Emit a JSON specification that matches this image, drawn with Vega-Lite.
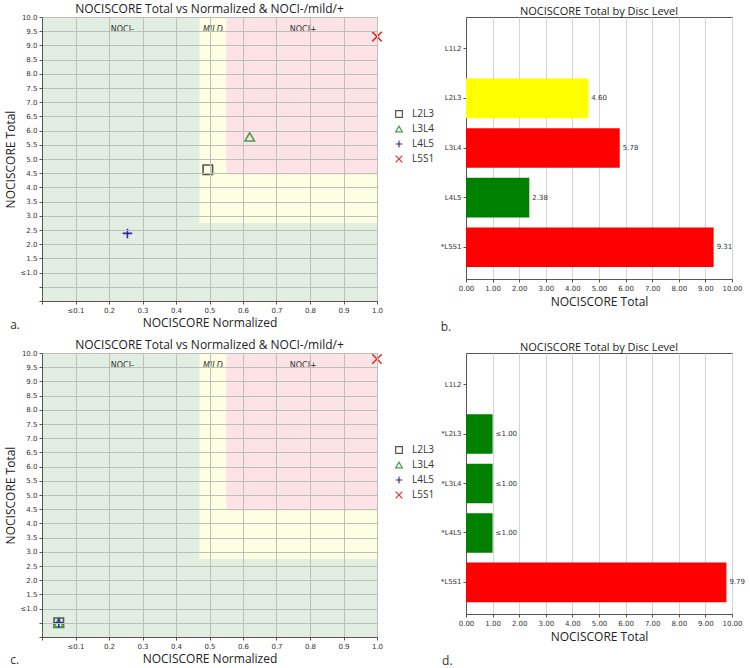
{
  "$schema": "https://vega.github.io/schema/vega-lite/v6.json",
  "padding": {"left": 3, "top": 2, "right": 0, "bottom": 0},
  "background": "white",
  "config": {
    "font": "Open Sans",
    "view": {"stroke": "#555", "strokeWidth": 1},
    "axis": {"labelFont": "DejaVu Sans", "labelFontSize": 7, "labelColor": "#333", "titleFont": "Open Sans", "titleFontSize": 12, "titleFontWeight": "normal", "titleColor": "#222", "domainColor": "#555", "tickColor": "#555", "tickSize": 3, "labelPadding": 2, "labelOverlap": false, "labelFlush": false},
    "title": {"font": "Open Sans", "fontSize": 12, "fontWeight": "normal", "color": "#222", "offset": -3, "frame": "group"},
    "legend": {"orient": "none", "legendX": 352, "legendY": 92, "padding": 0, "symbolSize": 45, "symbolStrokeWidth": 1.2, "labelFont": "Open Sans", "labelFontSize": 10, "labelColor": "#333", "rowPadding": 3, "labelOffset": 8, "title": null}
  },
  "datasets": {
    "zones": [
      {"zone": "NOCI-", "x0": 0, "x1": 1, "y0": 0, "y1": 10},
      {"zone": "MILD", "x0": 0.47, "x1": 1, "y0": 2.75, "y1": 10},
      {"zone": "NOCI+", "x0": 0.55, "x1": 1, "y0": 4.45, "y1": 10}
    ],
    "zoneLabels": [
      {"label": "NOCI-", "x": 0.24, "y": 9.55},
      {"label": "MILD", "x": 0.51, "y": 9.55},
      {"label": "NOCI+", "x": 0.78, "y": 9.55}
    ],
    "scatterA": [
      {"level": "L2L3", "norm": 0.495, "total": 4.62},
      {"level": "L3L4", "norm": 0.62, "total": 5.78},
      {"level": "L4L5", "norm": 0.255, "total": 2.38},
      {"level": "L5S1", "norm": 1.0, "total": 9.31}
    ],
    "scatterC": [
      {"level": "L2L3", "norm": 0.05, "total": 0.5},
      {"level": "L3L4", "norm": 0.05, "total": 0.5},
      {"level": "L4L5", "norm": 0.05, "total": 0.5},
      {"level": "L5S1", "norm": 1.0, "total": 9.79}
    ],
    "barsB": [
      {"disc": "L1L2", "total": null, "zone": null, "label": ""},
      {"disc": "L2L3", "total": 4.60, "zone": "MILD", "label": "4.60"},
      {"disc": "L3L4", "total": 5.78, "zone": "NOCI+", "label": "5.78"},
      {"disc": "L4L5", "total": 2.38, "zone": "NOCI-", "label": "2.38"},
      {"disc": "*L5S1", "total": 9.31, "zone": "NOCI+", "label": "9.31"}
    ],
    "barsD": [
      {"disc": "L1L2", "total": null, "zone": null, "label": ""},
      {"disc": "*L2L3", "total": 1.00, "zone": "NOCI-", "label": "≤1.00"},
      {"disc": "*L3L4", "total": 1.00, "zone": "NOCI-", "label": "≤1.00"},
      {"disc": "*L4L5", "total": 1.00, "zone": "NOCI-", "label": "≤1.00"},
      {"disc": "*L5S1", "total": 9.79, "zone": "NOCI+", "label": "9.79"}
    ]
  },
  "columns": 2,
  "spacing": {"row": 52, "column": 89},
  "bounds": "flush",
  "align": "each",
  "resolve": {
    "scale": {"shape": "independent", "stroke": "independent", "fill": "independent", "color": "independent", "x": "independent", "y": "independent"},
    "legend": {"shape": "independent", "stroke": "independent", "fill": "independent", "color": "independent"}
  },
  "concat": [
    {
      "width": 335, "height": 284,
      "title": {"text": "NOCISCORE Total vs Normalized & NOCI-/mild/+"},
      "layer": [
        {
          "data": {"name": "zones"},
          "mark": {"type": "rect"},
          "encoding": {
            "x": {"field": "x0", "type": "quantitative", "scale": {"domain": [0, 1], "nice": false, "zero": false},
              "axis": {"title": "NOCISCORE Normalized", "tickCount": 10, "labelExpr": "datum.value < 0.05 ? '' : (abs(datum.value - 0.1) < 0.001 ? '≤0.1' : format(datum.value, '.1f'))", "grid": true, "gridColor": "#b9c2b9", "gridWidth": 1, "zindex": 1, "titlePadding": 4}},
            "x2": {"field": "x1"},
            "y": {"field": "y0", "type": "quantitative", "scale": {"domain": [0, 10], "nice": false},
              "axis": {"title": "NOCISCORE Total", "tickCount": 20, "labelExpr": "datum.value < 0.9 ? '' : (abs(datum.value - 1) < 0.01 ? '≤1.0' : format(datum.value, '.1f'))", "grid": true, "gridColor": "#b9c2b9", "gridWidth": 1, "zindex": 1, "titlePadding": 3}},
            "y2": {"field": "y1"},
            "fill": {"field": "zone", "type": "nominal", "scale": {"domain": ["NOCI-", "MILD", "NOCI+"], "range": ["#e3eee2", "#fefee3", "#fde3e5"]}, "legend": null}
          }
        },
        {
          "data": {"name": "zoneLabels"},
          "transform": [{"filter": "datum.label != 'MILD'"}],
          "mark": {"type": "text", "font": "DejaVu Sans", "fontSize": 8, "color": "#333"},
          "encoding": {"x": {"field": "x", "type": "quantitative"}, "y": {"field": "y", "type": "quantitative"}, "text": {"field": "label"}}
        },
        {
          "data": {"name": "zoneLabels"},
          "transform": [{"filter": "datum.label == 'MILD'"}],
          "mark": {"type": "text", "font": "DejaVu Sans", "fontSize": 8, "fontStyle": "italic", "color": "#333"},
          "encoding": {"x": {"field": "x", "type": "quantitative"}, "y": {"field": "y", "type": "quantitative"}, "text": {"field": "label"}}
        },
        {
          "data": {"name": "scatterA"},
          "mark": {"type": "point", "filled": false, "strokeWidth": 1.6, "size": 90, "clip": false, "opacity": 1},
          "encoding": {
            "x": {"field": "norm", "type": "quantitative"},
            "y": {"field": "total", "type": "quantitative"},
            "shape": {"field": "level", "type": "nominal", "scale": {"domain": ["L2L3", "L3L4", "L4L5", "L5S1"], "range": ["square", "triangle-up", "M-1,0L1,0M0,-1L0,1", "M-1,-1L1,1M-1,1L1,-1"]}},
            "stroke": {"field": "level", "type": "nominal", "scale": {"domain": ["L2L3", "L3L4", "L4L5", "L5S1"], "range": ["#555555", "#4f9a4f", "#2a2aa8", "#e03030"]}}
          }
        },
        {
          "data": {"values": [{"panel": "a."}]},
          "mark": {"type": "text", "font": "Open Sans", "fontSize": 12, "align": "left", "baseline": "middle", "color": "#333", "clip": false},
          "encoding": {"x": {"datum": -0.095, "type": "quantitative"}, "y": {"datum": -0.85, "type": "quantitative"}, "text": {"field": "panel"}}
        }
      ]
    },
    {
      "width": 266, "height": 262,
      "title": {"text": "NOCISCORE Total by Disc Level", "fontSize": 11, "offset": 0},
      "layer": [
        {
          "data": {"name": "barsB"},
          "mark": {"type": "bar"},
          "encoding": {
            "y": {"field": "disc", "type": "nominal", "scale": {"domain": ["L1L2", "L2L3", "L3L4", "L4L5", "*L5S1"], "paddingInner": 0.2, "paddingOuter": 0.24}, "axis": {"title": null, "labelFontSize": 7, "tickSize": 3}},
            "x": {"field": "total", "type": "quantitative", "scale": {"domain": [0, 10], "nice": false}, "axis": {"title": "NOCISCORE Total", "tickCount": 10, "format": ".2f", "grid": true, "gridColor": "#d4d4d4", "gridWidth": 1, "titlePadding": 5}},
            "color": {"field": "zone", "type": "nominal", "scale": {"domain": ["NOCI-", "MILD", "NOCI+"], "range": ["#008000", "#ffff00", "#ff0000"]}, "legend": null}
          }
        },
        {
          "data": {"name": "barsB"},
          "mark": {"type": "text", "align": "left", "dx": 3, "font": "DejaVu Sans", "fontSize": 7, "color": "#333"},
          "encoding": {
            "y": {"field": "disc", "type": "nominal"},
            "x": {"field": "total", "type": "quantitative"},
            "text": {"field": "label"}
          }
        },
        {
          "data": {"values": [{"panel": "b."}]},
          "mark": {"type": "text", "font": "Open Sans", "fontSize": 12, "align": "left", "baseline": "middle", "color": "#333", "clip": false, "dy": 80},
          "encoding": {"x": {"datum": -0.95, "type": "quantitative"}, "y": {"datum": "*L5S1", "type": "nominal"}, "text": {"field": "panel"}}
        }
      ]
    },
    {
      "width": 335, "height": 284,
      "title": {"text": "NOCISCORE Total vs Normalized & NOCI-/mild/+"},
      "layer": [
        {
          "data": {"name": "zones"},
          "mark": {"type": "rect"},
          "encoding": {
            "x": {"field": "x0", "type": "quantitative", "scale": {"domain": [0, 1], "nice": false, "zero": false},
              "axis": {"title": "NOCISCORE Normalized", "tickCount": 10, "labelExpr": "datum.value < 0.05 ? '' : (abs(datum.value - 0.1) < 0.001 ? '≤0.1' : format(datum.value, '.1f'))", "grid": true, "gridColor": "#b9c2b9", "gridWidth": 1, "zindex": 1, "titlePadding": 4}},
            "x2": {"field": "x1"},
            "y": {"field": "y0", "type": "quantitative", "scale": {"domain": [0, 10], "nice": false},
              "axis": {"title": "NOCISCORE Total", "tickCount": 20, "labelExpr": "datum.value < 0.9 ? '' : (abs(datum.value - 1) < 0.01 ? '≤1.0' : format(datum.value, '.1f'))", "grid": true, "gridColor": "#b9c2b9", "gridWidth": 1, "zindex": 1, "titlePadding": 3}},
            "y2": {"field": "y1"},
            "fill": {"field": "zone", "type": "nominal", "scale": {"domain": ["NOCI-", "MILD", "NOCI+"], "range": ["#e3eee2", "#fefee3", "#fde3e5"]}, "legend": null}
          }
        },
        {
          "data": {"name": "zoneLabels"},
          "transform": [{"filter": "datum.label != 'MILD'"}],
          "mark": {"type": "text", "font": "DejaVu Sans", "fontSize": 8, "color": "#333"},
          "encoding": {"x": {"field": "x", "type": "quantitative"}, "y": {"field": "y", "type": "quantitative"}, "text": {"field": "label"}}
        },
        {
          "data": {"name": "zoneLabels"},
          "transform": [{"filter": "datum.label == 'MILD'"}],
          "mark": {"type": "text", "font": "DejaVu Sans", "fontSize": 8, "fontStyle": "italic", "color": "#333"},
          "encoding": {"x": {"field": "x", "type": "quantitative"}, "y": {"field": "y", "type": "quantitative"}, "text": {"field": "label"}}
        },
        {
          "data": {"name": "scatterC"},
          "mark": {"type": "point", "filled": false, "strokeWidth": 1.6, "size": 90, "clip": false, "opacity": 1},
          "encoding": {
            "x": {"field": "norm", "type": "quantitative"},
            "y": {"field": "total", "type": "quantitative"},
            "shape": {"field": "level", "type": "nominal", "scale": {"domain": ["L2L3", "L3L4", "L4L5", "L5S1"], "range": ["square", "triangle-up", "M-1,0L1,0M0,-1L0,1", "M-1,-1L1,1M-1,1L1,-1"]}},
            "stroke": {"field": "level", "type": "nominal", "scale": {"domain": ["L2L3", "L3L4", "L4L5", "L5S1"], "range": ["#555555", "#4f9a4f", "#2a2aa8", "#e03030"]}}
          }
        },
        {
          "data": {"values": [{"panel": "c."}]},
          "mark": {"type": "text", "font": "Open Sans", "fontSize": 12, "align": "left", "baseline": "middle", "color": "#333", "clip": false},
          "encoding": {"x": {"datum": -0.095, "type": "quantitative"}, "y": {"datum": -0.81, "type": "quantitative"}, "text": {"field": "panel"}}
        }
      ]
    },
    {
      "width": 266, "height": 261,
      "title": {"text": "NOCISCORE Total by Disc Level", "fontSize": 11, "offset": 0},
      "layer": [
        {
          "data": {"name": "barsD"},
          "mark": {"type": "bar"},
          "encoding": {
            "y": {"field": "disc", "type": "nominal", "scale": {"domain": ["L1L2", "*L2L3", "*L3L4", "*L4L5", "*L5S1"], "paddingInner": 0.2, "paddingOuter": 0.24}, "axis": {"title": null, "labelFontSize": 7, "tickSize": 3}},
            "x": {"field": "total", "type": "quantitative", "scale": {"domain": [0, 10], "nice": false}, "axis": {"title": "NOCISCORE Total", "tickCount": 10, "format": ".2f", "grid": true, "gridColor": "#d4d4d4", "gridWidth": 1, "titlePadding": 5}},
            "color": {"field": "zone", "type": "nominal", "scale": {"domain": ["NOCI-", "MILD", "NOCI+"], "range": ["#008000", "#ffff00", "#ff0000"]}, "legend": null}
          }
        },
        {
          "data": {"name": "barsD"},
          "mark": {"type": "text", "align": "left", "dx": 3, "font": "DejaVu Sans", "fontSize": 7, "color": "#333"},
          "encoding": {
            "y": {"field": "disc", "type": "nominal"},
            "x": {"field": "total", "type": "quantitative"},
            "text": {"field": "label"}
          }
        },
        {
          "data": {"values": [{"panel": "d."}]},
          "mark": {"type": "text", "font": "Open Sans", "fontSize": 12, "align": "left", "baseline": "middle", "color": "#333", "clip": false, "dy": 79},
          "encoding": {"x": {"datum": -0.9, "type": "quantitative"}, "y": {"datum": "*L5S1", "type": "nominal"}, "text": {"field": "panel"}}
        }
      ]
    }
  ]
}
